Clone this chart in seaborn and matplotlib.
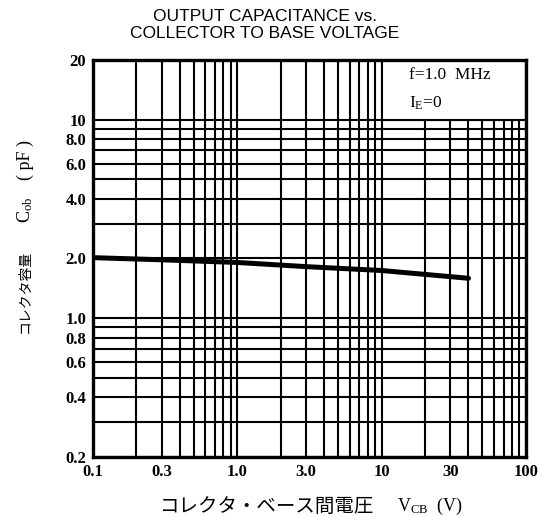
import numpy as np
import pandas as pd
import matplotlib
matplotlib.use("Agg")
import matplotlib.pyplot as plt
import seaborn as sns
from matplotlib.patches import Rectangle

# Datos
vcb = [0.1, 0.3, 1.0, 3.0, 10.0, 40.0]
cob = [2.02, 1.97, 1.91, 1.82, 1.74, 1.59]

x_ticks = [0.1, 0.3, 1.0, 3.0, 10, 30, 100]
x_labels = ["0.1", "0.3", "1.0", "3.0", "10", "30", "100"]
y_ticks = [0.2, 0.4, 0.6, 0.8, 1.0, 2.0, 4.0, 6.0, 8.0, 10, 20]
y_labels = ["0.2", "0.4", "0.6", "0.8", "1.0", "2.0", "4.0", "6.0", "8.0", "10", "20"]

# lineas de la reticula log
x_grid = [m * d for d in (0.1, 1, 10) for m in range(1, 10)] + [100]
y_grid = [m * d for d in (0.1, 1) for m in range(2, 10)] + [10]

sns.set_style("white")
plt.rcParams['font.family'] = ['Liberation Serif', 'Noto Sans CJK JP', 'DejaVu Sans']
plt.rcParams['text.color'] = 'black'
plt.rcParams['xtick.color'] = 'black'
plt.rcParams['ytick.color'] = 'black'
plt.rcParams['mathtext.fontset'] = 'custom'
plt.rcParams['mathtext.rm'] = 'Liberation Serif'
plt.rcParams['mathtext.it'] = 'Liberation Serif'

fig = plt.figure(figsize=(5.41, 5.17), dpi=100)
ax = fig.add_axes([0.172, 0.116, 0.800, 0.768])

df = pd.DataFrame({"vcb": vcb, "cob": cob})
sns.lineplot(data=df, x="vcb", y="cob", ax=ax, color="black", linewidth=3.6, zorder=3)

ax.set_xscale("log")
ax.set_yscale("log")
ax.set_xlim(0.1, 100)
ax.set_ylim(0.2, 20)

ax.set_xticks(x_grid, minor=True)
ax.set_yticks(y_grid, minor=True)
ax.set_xticks(x_ticks, x_labels)
ax.set_yticks(y_ticks, y_labels)
ax.xaxis.set_minor_formatter(matplotlib.ticker.NullFormatter())
ax.yaxis.set_minor_formatter(matplotlib.ticker.NullFormatter())
ax.tick_params(which="both", length=0, labelsize=12, pad=5)
for lab in ax.get_xticklabels() + ax.get_yticklabels():
    lab.set_fontweight("bold")

ax.set_axisbelow(True)
ax.grid(which="both", color="black", linewidth=1.5)
for s in ax.spines.values():
    s.set_linewidth(2.4)
    s.set_color("black")
    s.set_zorder(5)

# recuadro de condiciones
ax.add_patch(Rectangle((10, 10), 90, 10, facecolor="white", edgecolor="black",
                       linewidth=1.5, zorder=2))
ax.text(0.729, 0.962, "f=1.0  MHz", transform=ax.transAxes, fontsize=12.5,
        va="center", zorder=4)
ax.text(0.729, 0.89, "I$_{\\rm E}$=0", transform=ax.transAxes, fontsize=12.5,
        va="center", zorder=4)

ax.set_xlabel("")
ax.set_ylabel("")
# eje x: texto japones y simbolo por separado
fig.text(0.296, 0.02, "コレクタ・ベース間電圧", ha="left", va="center",
         fontsize=14, family="Noto Sans CJK JP")
fig.text(0.734, 0.02, "V$_{\\rm CB}$  (V)", ha="left", va="center", fontsize=13)
# eje y
fig.text(0.046, 0.356, "コレクタ容量", rotation=90, ha="center", va="bottom",
         fontsize=10, family="Noto Sans CJK JP")
fig.text(0.046, 0.569, "C$_{\\rm ob}$", rotation=90, ha="center", va="bottom",
         fontsize=13)
fig.text(0.046, 0.69, "( pF )", rotation=90, ha="center", va="center",
         fontsize=13)

fig.text(0.49, 0.952, "OUTPUT CAPACITANCE vs.\nCOLLECTOR TO BASE VOLTAGE", ha="center",
         va="center", fontsize=12.5, family="Liberation Sans", linespacing=1.2)

fig.savefig("out.png", dpi=100)
